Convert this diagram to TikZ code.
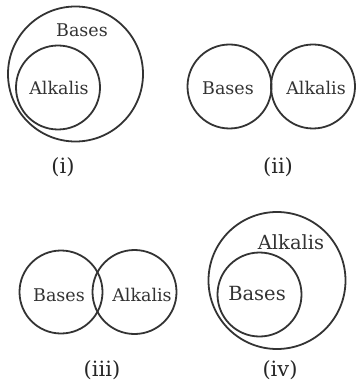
\documentclass[tikz,border=0pt]{standalone}
\usepackage{fontspec}
\setmainfont{DejaVu Serif}
\tikzset{
  ring/.style={circle, draw=black!80, line width=1.8pt, inner sep=0pt, minimum size=#1},
  lbl/.style={font=\fontsize{17.5}{19}\selectfont, text=black!80, inner sep=0pt},
  biglbl/.style={font=\fontsize{19.5}{21}\selectfont, text=black!80, inner sep=0pt},
  numlbl/.style={font=\fontsize{21}{23}\selectfont, text=black!85, inner sep=0pt}
}
\begin{document}
\begin{tikzpicture}[x=1pt,y=-1pt]
\useasboundingbox (0,0) rectangle (355,387);
% (i)
\node[ring=135pt] (oi) at (75.5,74) {};
\node[ring=84pt] (ii1) at (58,87.5) {};
\node[lbl] (bi) at (82,30) {Bases};
\node[lbl] (ai) at (59,88) {Alkalis};
\node[numlbl] (ci) at (63,167) {(i)};
% (ii)
\node[ring=84pt] (l2) at (229.5,86.5) {};
\node[ring=84pt] (r2) at (313,86.5) {};
\node[lbl] (b2) at (228,88) {Bases};
\node[lbl] (a2) at (316,88) {Alkalis};
\node[numlbl] (c2) at (278,167) {(ii)};
% (iii)
\node[ring=83pt] (l3) at (61,292) {};
\node[ring=84pt] (r3) at (134.5,292) {};
\node[lbl] (b3) at (59,295) {Bases};
\node[lbl] (a3) at (142,295) {Alkalis};
\node[numlbl] (c3) at (102,370) {(iii)};
% (iv)
\node[ring=137pt] (o4) at (277,280.5) {};
\node[ring=84pt] (i4) at (259.5,294.5) {};
\node[biglbl] (a4) at (291,242) {Alkalis};
\node[biglbl] (b4) at (257,294) {Bases};
\node[numlbl] (c4) at (280,370) {(iv)};
\end{tikzpicture}
\end{document}
